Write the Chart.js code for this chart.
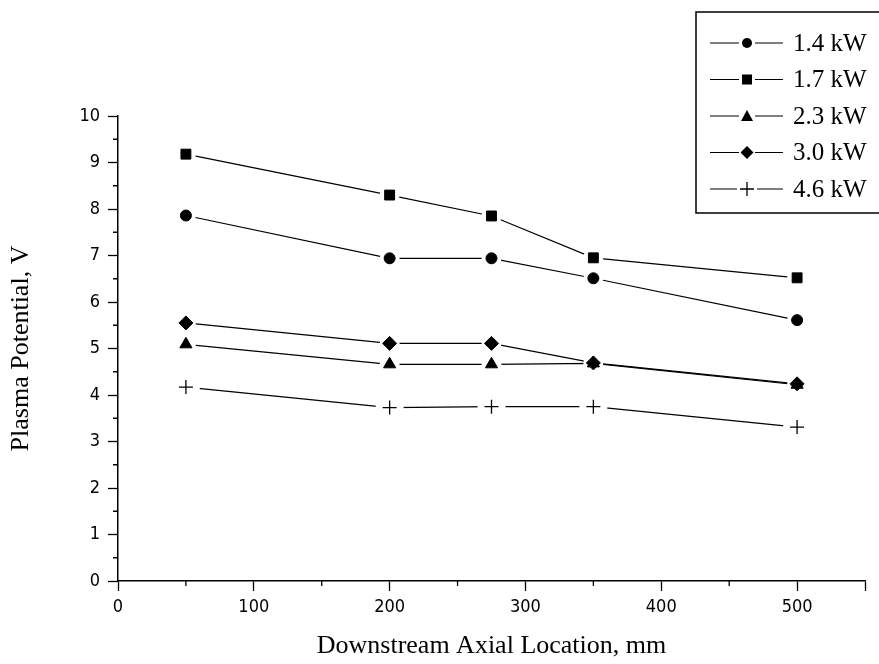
<!DOCTYPE html>
<html>
<head>
<meta charset="utf-8">
<script src="https://cdn.jsdelivr.net/npm/chart.js@4.4.1/dist/chart.umd.min.js"></script>
<style>
  html, body { margin: 0; padding: 0; background: #fff; }
  #wrap { width: 879px; height: 664px; }
</style>
</head>
<body>
<div id="wrap"><canvas id="chart" width="879" height="664"></canvas></div>
<script>
// axial locations (mm)
const locations = [50, 200, 275, 350, 500];

// plasma potential (V) for each power level
const p14 = [7.86, 6.94, 6.94, 6.51, 5.61];
const p17 = [9.18, 8.30, 7.85, 6.95, 6.52];
const p23 = [5.09, 4.66, 4.66, 4.68, 4.22];
const p30 = [5.55, 5.11, 5.11, 4.69, 4.24];
const p46 = [4.17, 3.73, 3.75, 3.75, 3.31];

const seriesNames = ['1.4 kW', '1.7 kW', '2.3 kW', '3.0 kW', '4.6 kW'];
const seriesValues = [p14, p17, p23, p30, p46];
const markers = ['circle', 'rect', 'triangle', 'rectRot', 'cross'];
const markerSize = [5.5, 7, 7, 7, 7];
const gapSize = [10, 10, 10, 10, 14];

const serif = "'Liberation Serif', 'Times New Roman', serif";
const narrow = "'Liberation Sans Narrow', 'DejaVu Sans Condensed', 'Liberation Sans', sans-serif";

const datasets = seriesNames.map((name, i) => ({
    label: name,
    data: locations.map((x, j) => ({ x: x, y: seriesValues[i][j] })),
    borderColor: '#000',
    backgroundColor: '#000',
    borderWidth: 1.2,
    pointStyle: markers[i],
    pointRadius: markerSize[i],
    pointBorderWidth: markers[i] === 'cross' ? 1.3 : 1,
    pointBorderColor: '#000',
    pointBackgroundColor: '#000',
    tension: 0
}));

// lines stop short of the markers, like the original plot
const markerGaps = {
    id: 'markerGaps',
    beforeDatasetDraw(chart, args) {
        const ctx = chart.ctx;
        const r = gapSize[args.index];
        ctx.save();
        ctx.beginPath();
        ctx.rect(0, 0, chart.width, chart.height);
        args.meta.data.forEach(p => {
            ctx.moveTo(p.x + r, p.y);
            ctx.arc(p.x, p.y, r, 0, Math.PI * 2);
        });
        ctx.clip('evenodd');
    },
    afterDatasetDraw(chart, args) {
        chart.ctx.restore();
        args.meta.data.forEach(p => p.draw(chart.ctx, chart.chartArea));
    }
};

// half-step ticks, shorter than the labelled ones
const minorTicks = {
    id: 'minorTicks',
    afterDraw(chart) {
        const ctx = chart.ctx;
        const xs = chart.scales.x, ys = chart.scales.y;
        ctx.save();
        ctx.strokeStyle = '#000';
        ctx.lineWidth = 1.3;
        ctx.beginPath();
        for (let v = 50; v < xs.max; v += 100) {
            const px = xs.getPixelForValue(v);
            ctx.moveTo(px, xs.top); ctx.lineTo(px, xs.top + 5);
        }
        for (let v = 0.5; v < ys.max; v += 1) {
            const py = ys.getPixelForValue(v);
            ctx.moveTo(ys.right, py); ctx.lineTo(ys.right - 5, py);
        }
        ctx.stroke();
        ctx.restore();
    }
};

// small marker drawer for the boxed legend
function drawMarker(ctx, style, x, y) {
    ctx.save();
    ctx.fillStyle = '#000';
    ctx.strokeStyle = '#000';
    ctx.lineWidth = 1.3;
    ctx.beginPath();
    if (style === 'circle') {
        ctx.arc(x, y, 5, 0, Math.PI * 2);
        ctx.fill();
    } else if (style === 'rect') {
        ctx.rect(x - 5, y - 5, 10, 10);
        ctx.fill();
    } else if (style === 'triangle') {
        ctx.moveTo(x, y - 6);
        ctx.lineTo(x + 6, y + 5);
        ctx.lineTo(x - 6, y + 5);
        ctx.closePath();
        ctx.fill();
    } else if (style === 'rectRot') {
        ctx.moveTo(x, y - 6.5);
        ctx.lineTo(x + 6.5, y);
        ctx.lineTo(x, y + 6.5);
        ctx.lineTo(x - 6.5, y);
        ctx.closePath();
        ctx.fill();
    } else {
        ctx.moveTo(x - 7, y); ctx.lineTo(x + 7, y);
        ctx.moveTo(x, y - 7); ctx.lineTo(x, y + 7);
        ctx.stroke();
    }
    ctx.restore();
}

const boxLegend = {
    id: 'boxLegend',
    afterDraw(chart) {
        const ctx = chart.ctx;
        ctx.save();
        ctx.strokeStyle = '#000';
        ctx.lineWidth = 1.5;
        ctx.strokeRect(696, 12, 200, 201);
        ctx.font = '25px ' + serif;
        ctx.textBaseline = 'middle';
        ctx.fillStyle = '#000';
        chart.data.datasets.forEach((ds, i) => {
            const y = 43 + i * 36.5;
            const g = markers[i] === 'cross' ? 10 : 8;
            ctx.beginPath();
            ctx.lineWidth = 1.2;
            ctx.moveTo(710, y); ctx.lineTo(747 - g, y);
            ctx.moveTo(747 + g, y); ctx.lineTo(783, y);
            ctx.stroke();
            drawMarker(ctx, markers[i], 747, y);
            ctx.fillText(ds.label, 793, y + 1);
        });
        ctx.restore();
    }
};

new Chart(document.getElementById('chart'), {
    type: 'line',
    data: { datasets: datasets },
    plugins: [markerGaps, minorTicks, boxLegend],
    options: {
        responsive: false,
        animation: false,
        layout: { padding: { top: 116, right: 14, left: 0, bottom: 0 } },
        plugins: { legend: { display: false }, tooltip: { enabled: false } },
        scales: {
            x: {
                type: 'linear',
                min: 0, max: 550,
                border: { display: true, color: '#000', width: 1.5 },
                grid: { display: true, drawOnChartArea: false, tickLength: 10, color: '#000', tickColor: '#000', tickWidth: 1.3 },
                ticks: {
                    stepSize: 100,
                    color: '#000',
                    font: { family: narrow, size: 18 },
                    maxRotation: 0,
                    padding: 6,
                    callback: v => (v <= 500) ? String(v) : ''
                },
                title: {
                    display: true,
                    text: 'Downstream Axial Location, mm',
                    color: '#000',
                    font: { family: serif, size: 26 },
                    padding: { top: 4, bottom: 2 }
                },
                afterFit(scale) { scale.height = 664 - 581; }
            },
            y: {
                min: 0, max: 10,
                border: { display: true, color: '#000', width: 1.5 },
                grid: { display: true, drawOnChartArea: false, tickLength: 10, color: '#000', tickColor: '#000', tickWidth: 1.3 },
                ticks: {
                    stepSize: 1,
                    color: '#000',
                    font: { family: narrow, size: 18 },
                    padding: 8
                },
                title: {
                    display: true,
                    text: 'Plasma Potential, V',
                    color: '#000',
                    font: { family: serif, size: 26 },
                    padding: { top: 6, bottom: 4 }
                },
                afterFit(scale) { scale.width = 118; }
            }
        }
    }
});
</script>
</body>
</html>
